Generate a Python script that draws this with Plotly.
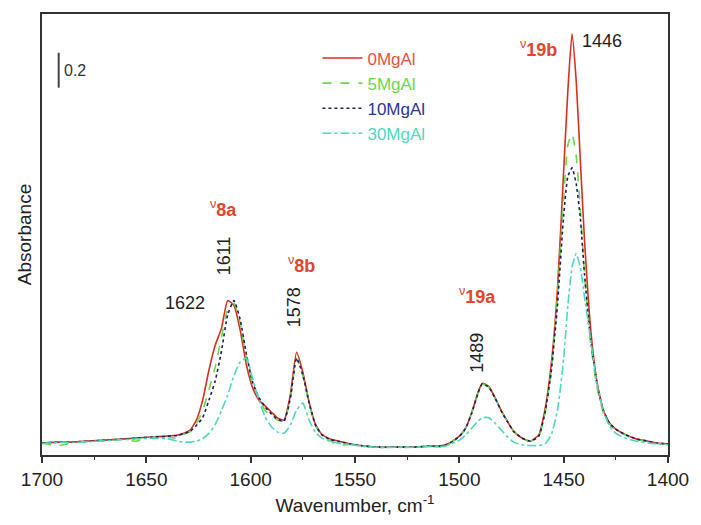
import plotly.graph_objects as go

# ---------------- data ----------------
wavenumber = [1700, 1692, 1685, 1678, 1670, 1662, 1655, 1648, 1640, 1635, 1632, 1629, 1626, 1623,
              1620, 1617, 1614, 1611, 1608, 1605, 1602, 1599, 1596, 1593, 1590, 1587, 1584, 1581,
              1578, 1575, 1572, 1569, 1566, 1562, 1558, 1552, 1545, 1538, 1530, 1522, 1515, 1510,
              1507, 1504, 1500, 1497, 1494, 1491, 1489, 1486, 1483, 1480, 1477, 1474, 1470, 1466,
              1462, 1459, 1456, 1453, 1450, 1448, 1446, 1444, 1442, 1440, 1437, 1434, 1431, 1428,
              1425, 1420, 1415, 1410, 1405, 1400]

abs_0MgAl = [0.114, 0.120, 0.120, 0.126, 0.131, 0.137, 0.143, 0.149, 0.154, 0.160, 0.171, 0.189, 0.246, 0.360,
             0.531, 0.674, 0.771, 0.931, 0.903, 0.760, 0.560, 0.429, 0.360, 0.326, 0.291, 0.257, 0.246, 0.389,
             0.634, 0.520, 0.349, 0.223, 0.166, 0.137, 0.126, 0.109, 0.097, 0.091, 0.091, 0.091, 0.097, 0.097,
             0.103, 0.120, 0.154, 0.200, 0.291, 0.406, 0.457, 0.440, 0.377, 0.303, 0.240, 0.183, 0.143, 0.126,
             0.160, 0.303, 0.560, 0.989, 1.674, 2.131, 2.457, 2.189, 1.731, 1.274, 0.760, 0.463, 0.303, 0.229,
             0.194, 0.160, 0.137, 0.126, 0.114, 0.109]

abs_5MgAl = [0.114, 0.100, 0.118, 0.124, 0.130, 0.136, 0.125, 0.146, 0.152, 0.140, 0.165, 0.180, 0.225, 0.300,
             0.420, 0.550, 0.720, 0.880, 0.915, 0.800, 0.600, 0.450, 0.370, 0.300, 0.270, 0.245, 0.240, 0.370,
             0.600, 0.500, 0.340, 0.215, 0.160, 0.130, 0.100, 0.108, 0.096, 0.090, 0.092, 0.090, 0.095, 0.094,
             0.085, 0.118, 0.150, 0.198, 0.288, 0.400, 0.452, 0.436, 0.374, 0.300, 0.238, 0.180, 0.140, 0.124,
             0.150, 0.280, 0.520, 0.950, 1.520, 1.820, 1.886, 1.760, 1.450, 1.080, 0.680, 0.430, 0.290, 0.222,
             0.190, 0.157, 0.135, 0.124, 0.112, 0.108]

abs_10MgAl = [0.114, 0.119, 0.120, 0.125, 0.130, 0.136, 0.142, 0.148, 0.153, 0.158, 0.168, 0.182, 0.215, 0.260,
              0.360, 0.470, 0.640, 0.850, 0.930, 0.820, 0.620, 0.460, 0.375, 0.320, 0.280, 0.250, 0.240, 0.370,
              0.600, 0.505, 0.345, 0.220, 0.163, 0.135, 0.124, 0.108, 0.097, 0.091, 0.091, 0.091, 0.096, 0.096,
              0.102, 0.118, 0.152, 0.198, 0.288, 0.402, 0.452, 0.437, 0.375, 0.300, 0.238, 0.181, 0.142, 0.125,
              0.152, 0.285, 0.520, 0.900, 1.420, 1.640, 1.690, 1.600, 1.400, 1.080, 0.700, 0.450, 0.300, 0.228,
              0.193, 0.160, 0.137, 0.126, 0.114, 0.109]

abs_30MgAl = [0.112, 0.118, 0.118, 0.122, 0.128, 0.133, 0.138, 0.142, 0.140, 0.125, 0.120, 0.120, 0.125, 0.140,
              0.170, 0.220, 0.300, 0.390, 0.500, 0.580, 0.600, 0.480, 0.360, 0.263, 0.206, 0.177, 0.171, 0.217,
              0.303, 0.343, 0.246, 0.177, 0.143, 0.126, 0.114, 0.105, 0.095, 0.090, 0.090, 0.090, 0.094, 0.094,
              0.096, 0.110, 0.130, 0.160, 0.200, 0.240, 0.260, 0.260, 0.230, 0.190, 0.150, 0.120, 0.105, 0.100,
              0.100, 0.110, 0.160, 0.300, 0.600, 0.900, 1.120, 1.200, 1.120, 0.950, 0.700, 0.450, 0.300, 0.210,
              0.170, 0.140, 0.125, 0.115, 0.110, 0.105]

series_names = ["0MgAl", "5MgAl", "10MgAl", "30MgAl"]
series_values = [abs_0MgAl, abs_5MgAl, abs_10MgAl, abs_30MgAl]
line_colors = ["#d9301e", "#6ad94a", "#1c1f5e", "#4fd8c0"]
text_colors = ["#e2553a", "#6fd64f", "#2b3594", "#55d6bd"]
line_dashes = ["solid", "dash", "dot", "dashdot"]

# peak labels: (text, wavenumber, absorbance, rotation)
peak_labels = [("1622", 1631.4, 0.914, 0),
               ("1611", 1612.4, 1.189, -90),
               ("1578", 1578.8, 0.891, -90),
               ("1489", 1491.3, 0.634, -90),
               ("1446", 1431.7, 2.417, 0)]
mode_labels = [("8a", 1612.9, 1.457),
               ("8b", 1575.5, 1.137),
               ("19a", 1491.3, 0.960),
               ("19b", 1462.0, 2.371)]
scale_bar_value = 0.2
scale_bar_pos = (1692.0, 2.149)

FONT = "Arial, Liberation Sans, sans-serif"

fig = go.Figure()
for name, vals, lc, tc, dash in zip(series_names, series_values, line_colors, text_colors, line_dashes):
    fig.add_trace(go.Scatter(
        x=wavenumber, y=vals, mode="lines",
        name=f"<span style='color:{tc}'>{name}</span>",
        line=dict(color=lc, width=1.6, dash=dash, shape="spline", smoothing=0.5),
    ))

for txt, xv, yv, rot in peak_labels:
    fig.add_annotation(x=xv, y=yv, xref="x", yref="y", text=txt, showarrow=False,
                       textangle=rot, font=dict(family=FONT, size=18, color="#222222"))

for sub, xv, yv in mode_labels:
    fig.add_annotation(x=xv, y=yv, xref="x", yref="y",
                       text=f"<sup>ν</sup><b>{sub}</b>", showarrow=False,
                       font=dict(family=FONT, size=18, color="#e0462a"))

# scale bar
sx, sy = scale_bar_pos
fig.add_shape(type="line", xref="x", yref="y", x0=sx, x1=sx, y0=sy, y1=sy + scale_bar_value,
              line=dict(color="#444444", width=2))
fig.add_annotation(x=sx, y=sy + scale_bar_value / 2, xref="x", yref="y", text=str(scale_bar_value),
                   showarrow=False, xanchor="left", xshift=3,
                   font=dict(family=FONT, size=16, color="#333333"))

fig.update_layout(
    width=701, height=525,
    margin=dict(l=42, r=25, t=13, b=70),
    paper_bgcolor="white", plot_bgcolor="white",
    font=dict(family=FONT, size=19, color="#222222"),
    showlegend=True,
    legend=dict(x=0.44, y=0.94, xanchor="left", yanchor="top",
                bgcolor="rgba(0,0,0,0)", font=dict(family=FONT, size=17),
                itemwidth=40),
)
fig.update_xaxes(
    range=[1700, 1400], tickvals=[1700, 1650, 1600, 1550, 1500, 1450, 1400],
    ticks="outside", ticklen=6, tickwidth=1.5, tickcolor="#333333",
    minor=dict(dtick=25, ticks="outside", ticklen=3, tickwidth=1.2, tickcolor="#333333"),
    showline=True, linecolor="#333333", linewidth=1.5, mirror=True,
    showgrid=False, zeroline=False,
    title=dict(text="Wavenumber, cm<sup>-1</sup>", font=dict(size=19), standoff=10),
    tickfont=dict(size=19),
)
fig.update_yaxes(
    range=[0.046, 2.571], showticklabels=False, ticks="",
    showline=True, linecolor="#333333", linewidth=1.5, mirror=True,
    showgrid=False, zeroline=False,
    title=dict(text="Absorbance", font=dict(size=19), standoff=4),
)

fig.write_html("out.html")
